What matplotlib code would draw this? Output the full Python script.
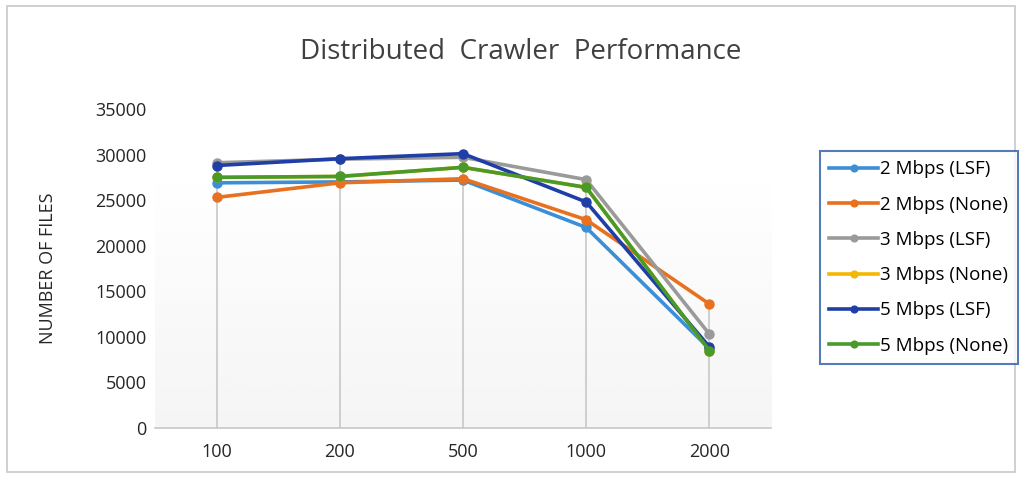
import matplotlib
matplotlib.use("Agg")
import matplotlib.pyplot as plt
import numpy as np
from matplotlib.patches import Rectangle

plt.rcParams['font.family'] = ['Open Sans', 'DejaVu Sans']

# data
categories = ["100", "200", "500", "1000", "2000"]
lsf_2 = [26900, 27000, 27200, 22000, 8700]
none_2 = [25300, 26900, 27350, 22850, 13600]
lsf_3 = [29100, 29500, 29700, 27250, 10300]
none_3 = [27500, 27600, 28600, 26400, 8500]
lsf_5 = [28800, 29550, 30100, 24800, 8900]
none_5 = [27500, 27600, 28600, 26400, 8500]

series = [
    ("2 Mbps (LSF)", lsf_2, "#3c8fd6"),
    ("2 Mbps (None)", none_2, "#e8711f"),
    ("3 Mbps (LSF)", lsf_3, "#9a9a9a"),
    ("3 Mbps (None)", none_3, "#f5b800"),
    ("5 Mbps (LSF)", lsf_5, "#1f3fa6"),
    ("5 Mbps (None)", none_5, "#4a9a2a"),
]

fig = plt.figure(figsize=(10.22, 4.84), dpi=100)
ax = fig.add_axes([155/1022, 1 - 428/484, 616/1022, 319/484])

x = np.arange(len(categories))

# gradient background (white at top to light gray at bottom)
grad = np.linspace(0.0, 1.0, 256).reshape(-1, 1)
grad = np.clip((grad - 0.2) / 0.8, 0, 1)
ax.imshow(grad, extent=[-0.5, 4.5, 0, 35000], aspect='auto', cmap='Greys',
          vmin=0, vmax=12, zorder=0, origin='upper')

# drop lines from highest point down to the axis
tops = np.max([s[1] for s in series], axis=0)
ax.vlines(x, 0, tops, colors="#c8c8c8", linewidth=1.2, zorder=1)

for name, vals, col in series:
    ax.plot(x, vals, color=col, linewidth=2.6, marker='o', markersize=6.5,
            markerfacecolor=col, markeredgecolor=col, label=name, zorder=3)

ax.set_xlim(-0.5, 4.5)
ax.set_ylim(0, 35000)
ax.set_xticks(x)
ax.set_xticklabels(categories)
ax.set_yticks(np.arange(0, 35001, 5000))
ax.tick_params(axis='both', length=0, labelsize=13, colors="#262626")
ax.tick_params(axis='x', pad=11)
ax.tick_params(axis='y', pad=6)
for side in ['top', 'right', 'left']:
    ax.spines[side].set_visible(False)
ax.spines['bottom'].set_color("#c8c8c8")
ax.spines['bottom'].set_linewidth(1.2)

ax.set_ylabel("NUMBER OF FILES", fontsize=13, color="#262626", labelpad=28)

fig.text(0.509, 1 - 52/484, "Distributed  Crawler  Performance", ha='center', va='center',
         fontsize=20, color="#404040")

leg = fig.legend(loc='upper left', bbox_to_anchor=(820/1022, 1 - 151/484),
                 fontsize=13.5, frameon=True, fancybox=False, handlelength=2.6,
                 borderpad=0.5, labelspacing=0.92, handletextpad=0.1,
                 borderaxespad=0, markerscale=0.75)
leg.get_frame().set_edgecolor("#2a5aa8")
leg.get_frame().set_linewidth(1.5)

# outer chart border
fig.patches.append(Rectangle((7/1022, 1 - 472/484), 1008/1022, 466/484,
                             transform=fig.transFigure, fill=False,
                             edgecolor="#c8c8c8", linewidth=1.2))

fig.savefig("out.png", dpi=100)
